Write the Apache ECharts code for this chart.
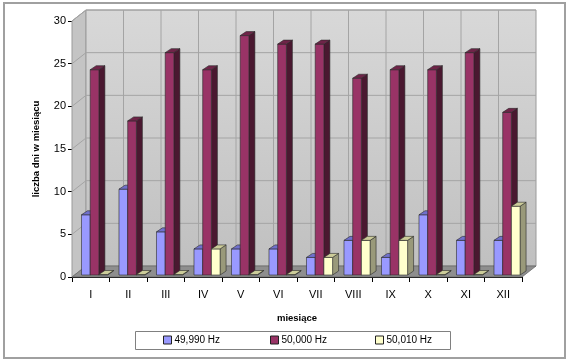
<!DOCTYPE html>
<html>
<head>
<meta charset="utf-8">
<script src="https://cdn.jsdelivr.net/npm/echarts@6/dist/echarts.min.js"></script>
<style>html,body{margin:0;padding:0;background:#fff}#c{width:570px;height:362px}</style>
</head>
<body>
<div id="c"></div>
<script>
const months = ['I','II','III','IV','V','VI','VII','VIII','IX','X','XI','XII'];
const hz49990 = [7,10,5,3,3,3,2,4,2,7,4,4];
const hz50000 = [24,18,26,24,28,27,27,23,24,24,26,19];
const hz50010 = [0,0,0,3,0,0,2,4,4,0,0,8];
const yTicks = [0,5,10,15,20,25,30];
const seriesNames = ['49,990 Hz','50,000 Hz','50,010 Hz'];

const FONT = 'Liberation Sans, Arial, sans-serif';
const DX = 14, DY = 11;

const palette = [
  {front:'#9999ff', side:'#4d4d99', top:'#7070cc'},
  {front:'#993366', side:'#4a1830', top:'#6e2448'},
  {front:'#ffffcc', side:'#99997a', top:'#cccc99'}
];

function wallRender(params, api) {
  const band = api.size([1, 0])[0];
  const x0 = api.coord([0, 0])[0] - band / 2;
  const x1 = api.coord([months.length - 1, 0])[0] + band / 2;
  const y0 = api.coord([0, 0])[1];
  const yT = api.coord([0, yTicks[yTicks.length - 1]])[1];
  const children = [];
  children.push({type:'polygon', shape:{points:[[x0,y0],[x0,yT],[x0+DX,yT-DY],[x0+DX,y0-DY]]},
    style:{fill:'#c4c4c4', stroke:'#9a9a9a', lineWidth:1}});
  children.push({type:'rect', shape:{x:x0+DX, y:yT-DY, width:x1-x0, height:y0-yT},
    style:{fill:new echarts.graphic.LinearGradient(0,0,0,1,[{offset:0,color:'#d8d8d8'},{offset:1,color:'#c0c0c0'}]), stroke:'#9a9a9a', lineWidth:1}});
  for (let k = 1; k < months.length; k++) {
    const x = x0 + k * band + DX;
    children.push({type:'line', shape:{x1:x, y1:yT-DY, x2:x, y2:y0-DY}, style:{stroke:'#a4a4a4', lineWidth:1}});
  }
  yTicks.forEach(t => {
    const y = api.coord([0, t])[1];
    children.push({type:'polyline', shape:{points:[[x0,y],[x0+DX,y-DY],[x1+DX,y-DY]]}, style:{stroke:'#a4a4a4', lineWidth:1, fill:null}});
  });
  children.push({type:'polygon', shape:{points:[[x0,y0],[x1,y0],[x1+DX,y0-DY],[x0+DX,y0-DY]]},
    style:{fill:'#8e8e8e', stroke:'#6a6a6a', lineWidth:0.8}});
  return {type:'group', children};
}

function barRender(si) {
  return function(params, api) {
    const idx = api.value(0), v = api.value(1);
    const base = api.coord([idx, 0]);
    const top = api.coord([idx, v]);
    const band = api.size([1, 0])[0];
    const bw = band * 0.232;
    const x = base[0] - band * 0.247 + si * bw;
    const yb = base[1] - 2, yt = top[1] - 2.5;
    const dx = 6, dy = 4;
    const c = palette[si];
    const st = {stroke:'#2a2a2a', lineWidth:0.6};
    return {type:'group', children:[
      {type:'polygon', shape:{points:[[x+bw,yt],[x+bw+dx,yt-dy],[x+bw+dx,yb-dy],[x+bw,yb]]}, style:Object.assign({fill:c.side}, st)},
      {type:'rect', shape:{x:x, y:yt, width:bw, height:Math.max(yb-yt,0)}, style:Object.assign({fill:c.front}, st)},
      {type:'polygon', shape:{points:[[x,yt],[x+dx,yt-dy],[x+bw+dx,yt-dy],[x+bw,yt]]}, style:Object.assign({fill:c.top}, st)}
    ]};
  };
}

const dataSets = [hz49990, hz50000, hz50010];
const series = [{
  type:'custom', name:'walls', renderItem:wallRender, data:[[0,0]], encode:{x:0,y:1}, silent:true, z:1
}];
dataSets.forEach((arr, si) => {
  series.push({
    type:'custom', name:seriesNames[si], renderItem:barRender(si),
    data:arr.map((v,i)=>[i,v]), encode:{x:0,y:1}, z:2+si,
    itemStyle:{color:palette[si].front, borderColor:'#222', borderWidth:1}
  });
});

const legendLefts = [163, 270, 375];
const legends = seriesNames.map((n, i) => ({
  data:[n], left:legendLefts[i], top:335, itemWidth:8, itemHeight:8, itemGap:4, icon:'rect',
  padding:0, textStyle:{fontFamily:FONT, fontSize:10, color:'#000', padding:[0,0,0,-2]}, selectedMode:false,
  itemStyle:{borderColor:'#222', borderWidth:1}
}));

const chart = echarts.init(document.getElementById('c'));
chart.setOption({
  animation:false,
  backgroundColor:'#fff',
  grid:{left:72, top:21, width:450, height:256, containLabel:false},
  xAxis:{
    type:'category', data:months, boundaryGap:true,
    name:'miesiące', nameLocation:'middle', nameGap:36,
    nameTextStyle:{fontFamily:FONT, fontSize:9.5, fontWeight:'bold', color:'#000'},
    axisLine:{show:true, lineStyle:{color:'#000', width:1}},
    axisTick:{show:true, length:5, lineStyle:{color:'#000'}},
    axisLabel:{fontFamily:FONT, fontSize:11, color:'#000', margin:12},
    splitLine:{show:false}
  },
  yAxis:{
    type:'value', min:0, max:30, interval:5,
    name:'liczba dni w miesiącu', nameLocation:'middle', nameGap:31, nameRotate:90,
    nameTextStyle:{fontFamily:FONT, fontSize:9.5, fontWeight:'bold', color:'#000'},
    axisLine:{show:true, lineStyle:{color:'#000', width:1}},
    axisTick:{show:true, length:4, lineStyle:{color:'#000'}},
    axisLabel:{fontFamily:FONT, fontSize:11, color:'#000', margin:6},
    splitLine:{show:false}
  },
  legend:legends,
  graphic:[
    {type:'rect', shape:{x:4, y:3, width:561, height:355}, style:{fill:null, stroke:'#a0a0a0', lineWidth:2}, z:-10},
    {type:'rect', shape:{x:135.5, y:331.5, width:315, height:18}, style:{fill:null, stroke:'#808080', lineWidth:1}, z:-5}
  ],
  series
});
</script>
</body>
</html>
